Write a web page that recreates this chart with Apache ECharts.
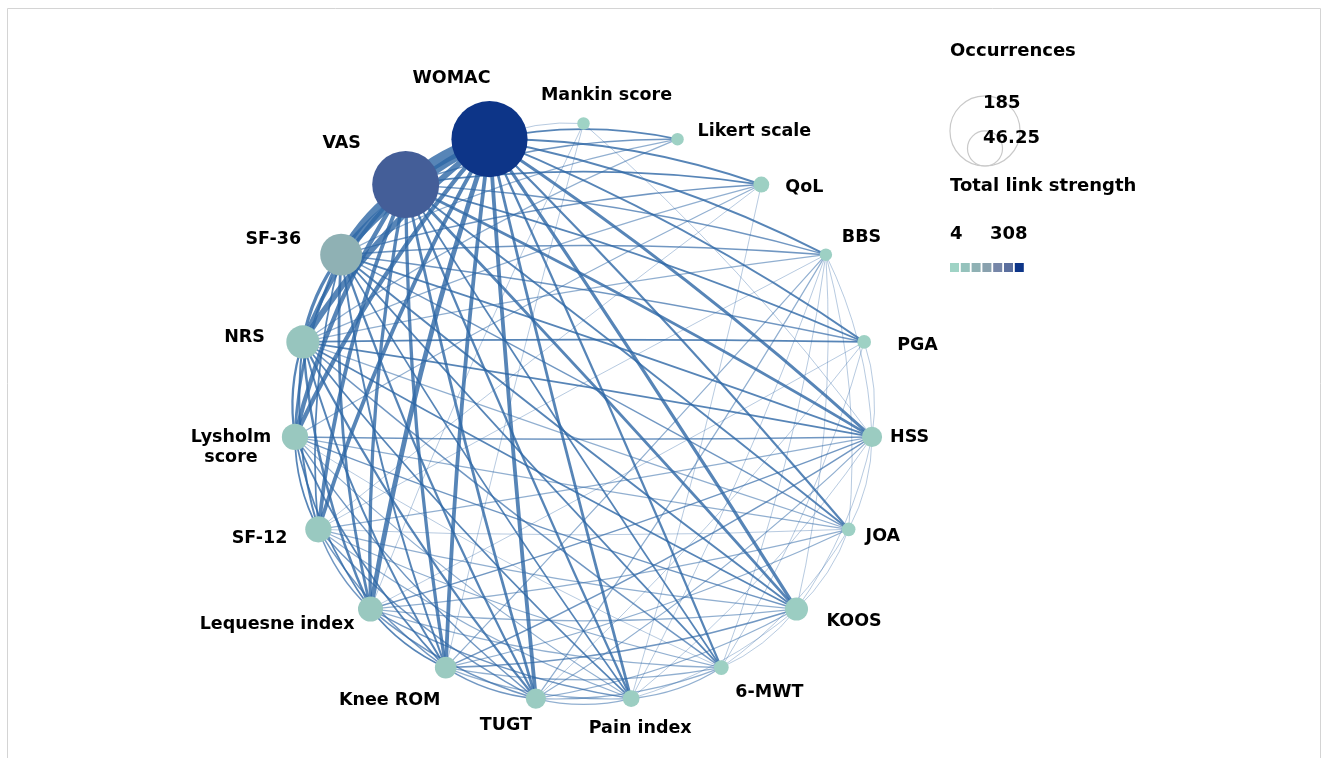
<!DOCTYPE html>
<html>
<head>
<meta charset="utf-8">
<script src="https://cdn.jsdelivr.net/npm/echarts@6/dist/echarts.min.js"></script>
<style>
html,body{margin:0;padding:0;background:#fff;}
#chart{width:1328px;height:758px;}
</style>
</head>
<body>
<div id="chart"></div>
<script>
// ---- data ----
const nodeNames = ['Mankin score','Likert scale','QoL','BBS','PGA','HSS','JOA','KOOS','6-MWT','Pain index','TUGT','Knee ROM','Lequesne index','SF-12','Lysholm score','NRS','SF-36','VAS','WOMAC'];
const occurrences = [5,5,8,5,6,13,6,17,7,9,13,15,20,22,22,35,56,143,185];
const totalLinkStrength = [4,10,14,12,10,24,12,22,14,20,28,30,36,34,36,45,105,272,308];
const sizeLegendValues = [185, 46.25];
const strengthLegendValues = [4, 308];
const links = [
 ['WOMAC','VAS',45],['WOMAC','SF-36',28],['WOMAC','NRS',20],['WOMAC','Lysholm score',14],['WOMAC','SF-12',12],['WOMAC','Lequesne index',16],['WOMAC','Knee ROM',12],['WOMAC','TUGT',12],['WOMAC','Pain index',8],['WOMAC','6-MWT',6],['WOMAC','KOOS',10],['WOMAC','JOA',6],['WOMAC','HSS',9],['WOMAC','PGA',5],['WOMAC','BBS',5],['WOMAC','QoL',5],['WOMAC','Likert scale',4],['WOMAC','Mankin score',1],
 ['VAS','SF-36',22],['VAS','NRS',12],['VAS','Lysholm score',14],['VAS','SF-12',12],['VAS','Lequesne index',10],['VAS','Knee ROM',10],['VAS','TUGT',8],['VAS','Pain index',6],['VAS','6-MWT',4],['VAS','KOOS',8],['VAS','JOA',5],['VAS','HSS',8],['VAS','PGA',4],['VAS','BBS',3],['VAS','QoL',4],['VAS','Likert scale',3],
 ['SF-36','NRS',10],['SF-36','Lysholm score',8],['SF-36','SF-12',4],['SF-36','Lequesne index',8],['SF-36','Knee ROM',5],['SF-36','TUGT',6],['SF-36','Pain index',4],['SF-36','6-MWT',4],['SF-36','KOOS',5],['SF-36','JOA',3],['SF-36','HSS',5],['SF-36','PGA',3],['SF-36','BBS',3],['SF-36','QoL',3],['SF-36','Likert scale',2],
 ['NRS','Lysholm score',6],['NRS','SF-12',5],['NRS','Lequesne index',7],['NRS','Knee ROM',5],['NRS','TUGT',6],['NRS','Pain index',4],['NRS','6-MWT',3],['NRS','KOOS',4],['NRS','JOA',2],['NRS','HSS',4],['NRS','PGA',4],['NRS','BBS',2],['NRS','QoL',2],['NRS','Likert scale',2],
 ['Lysholm score','SF-12',4],['Lysholm score','Lequesne index',4],['Lysholm score','Knee ROM',4],['Lysholm score','TUGT',3],['Lysholm score','Pain index',2],['Lysholm score','KOOS',3],['Lysholm score','HSS',3],['Lysholm score','JOA',2],['Lysholm score','6-MWT',1],['Lysholm score','QoL',2],
 ['SF-12','Lequesne index',3],['SF-12','Knee ROM',3],['SF-12','TUGT',3],['SF-12','Pain index',2],['SF-12','6-MWT',2],['SF-12','KOOS',2],['SF-12','HSS',2],['SF-12','JOA',1],['SF-12','BBS',1],['SF-12','QoL',1],
 ['Lequesne index','Knee ROM',4],['Lequesne index','TUGT',3],['Lequesne index','Pain index',3],['Lequesne index','6-MWT',2],['Lequesne index','KOOS',2],['Lequesne index','HSS',3],['Lequesne index','JOA',2],['Lequesne index','PGA',1],['Lequesne index','Mankin score',1],
 ['Knee ROM','TUGT',3],['Knee ROM','Pain index',2],['Knee ROM','6-MWT',2],['Knee ROM','KOOS',3],['Knee ROM','HSS',3],['Knee ROM','JOA',2],['Knee ROM','BBS',2],['Knee ROM','Mankin score',1],
 ['TUGT','Pain index',2],['TUGT','6-MWT',2],['TUGT','KOOS',2],['TUGT','HSS',2],['TUGT','BBS',2],['TUGT','PGA',1],
 ['Pain index','6-MWT',2],['Pain index','KOOS',1],['Pain index','HSS',1],['Pain index','QoL',1],['Pain index','BBS',1],
 ['6-MWT','KOOS',1],['6-MWT','BBS',1],['6-MWT','PGA',1],['6-MWT','JOA',1],
 ['KOOS','JOA',1],['KOOS','HSS',1],['KOOS','BBS',1],
 ['JOA','HSS',1],['HSS','PGA',1],['HSS','BBS',1],['HSS','Mankin score',1],['BBS','JOA',1]
];

// ---- styling ----
const ramp = ['#9fd3c5','#95c2bc','#8fb1b4','#89a1ae','#7686a8','#5b6f9e','#0d3588'];
const labelFont = {fontFamily:'DejaVu Sans', fontWeight:'bold', fontSize:17.5, color:'#000'};
// label anchor relative to node centre: [align, dx, dy]
const labelPlace = [['center',23,-28],['left',20,-8],['left',24,3],['left',16,-17],['left',33,4],['left',18,1],['left',17,7],['left',30,12],['left',14,25],['center',9,30],['center',-30,27],['center',-56,33],['right',-16,15],['right',-31,9],['center',-64,11],['right',-38,-4],['right',-40,-15],['center',-64,-41],['center',-38,-61]];

function symSize(v){ return 5.6*Math.sqrt(v); }
const tMin = strengthLegendValues[0], tMax = strengthLegendValues[1];
function tlsColor(v){ return echarts.color.lerp(Math.max(0,Math.min(1,(v-tMin)/(tMax-tMin))), ramp); }

const N = nodeNames.length;
const nodes = nodeNames.map((name,i)=>{
  const p = labelPlace[i];
  return {
    name: name,
    value: [1, i],
    symbolSize: symSize(occurrences[i]),
    itemStyle: {color: tlsColor(totalLinkStrength[i])},
    label: Object.assign({
      show:true, position:'inside', align:p[0], verticalAlign:'middle', offset:[p[1],p[2]],
      textBorderWidth:0, textBorderColor:'transparent', lineHeight:20,
      formatter: name==='Lysholm score' ? 'Lysholm\nscore' : '{b}'
    }, labelFont)
  };
});

const idx = {}; nodeNames.forEach((n,i)=>idx[n]=i);
const edgeData = links.slice().sort((a,b)=>a[2]-b[2]).map(l=>{
  let a = idx[l[0]], b = idx[l[1]];
  let steps = ((b-a)%N+N)%N;
  if (steps > N/2) { const t=a; a=b; b=t; steps = N-steps; }
  const w = l[2];
  return {
    source: nodeNames[a], target: nodeNames[b], value: w,
    lineStyle: {
      width: 0.7 + 0.26*w,
      opacity: Math.min(0.8, 0.2 + 0.16*w),
      curveness: Math.max(0.008, 0.14 - 0.017*steps)
    }
  };
});

const chart = echarts.init(document.getElementById('chart'), null, {renderer:'canvas'});

const legendText = {fontFamily:'DejaVu Sans', fontWeight:'bold', fontSize:18, fill:'#000'};
const graphics = [
  {type:'rect', shape:{x:7.5,y:8.5,width:1313,height:760}, style:{fill:'none', stroke:'#d4d4d4', lineWidth:1}, silent:true},
  {type:'text', left:950, top:42, style:Object.assign({text:'Occurrences'}, legendText)},
];
// size legend circles sharing a bottom
const bigR = symSize(sizeLegendValues[0])/2*0.92, smallR = symSize(sizeLegendValues[1])/2*0.92;
const bottomY = 166, circX = 985;
graphics.push({type:'circle', shape:{cx:circX, cy:bottomY-bigR, r:bigR}, style:{fill:'none', stroke:'#c9c9c9', lineWidth:1.2}});
graphics.push({type:'circle', shape:{cx:circX, cy:bottomY-smallR, r:smallR}, style:{fill:'none', stroke:'#c9c9c9', lineWidth:1.2}});
graphics.push({type:'text', left:983, top:94, style:Object.assign({text:String(sizeLegendValues[0])}, legendText)});
graphics.push({type:'text', left:983, top:129, style:Object.assign({text:String(sizeLegendValues[1])}, legendText)});
graphics.push({type:'text', left:950, top:177, style:Object.assign({text:'Total link strength'}, legendText)});
graphics.push({type:'text', left:950, top:225, style:Object.assign({text:String(strengthLegendValues[0])}, legendText)});
graphics.push({type:'text', left:990, top:225, style:Object.assign({text:String(strengthLegendValues[1])}, legendText)});
ramp.forEach((c,i)=>{
  graphics.push({type:'rect', shape:{x:950+i*10.8, y:263, width:9, height:9}, style:{fill:c}});
});

chart.setOption({
  backgroundColor:'#ffffff',
  animation:false,
  polar:{center:[583.5,413], radius:289.5},
  angleAxis:{type:'value', min:0, max:N, startAngle:90, clockwise:true, show:false, splitLine:{show:false}, axisLine:{show:false}},
  radiusAxis:{type:'value', min:0, max:1, show:false, splitLine:{show:false}, axisLine:{show:false}},
  graphic: graphics,
  series:[{
    type:'graph',
    coordinateSystem:'polar',
    data: nodes,
    links: edgeData,
    edgeSymbol:['none','none'],
    lineStyle:{color:'#2d66a5'},
    itemStyle:{opacity:1},
    emphasis:{disabled:true},
    z:2
  }]
});
</script>
</body>
</html>
